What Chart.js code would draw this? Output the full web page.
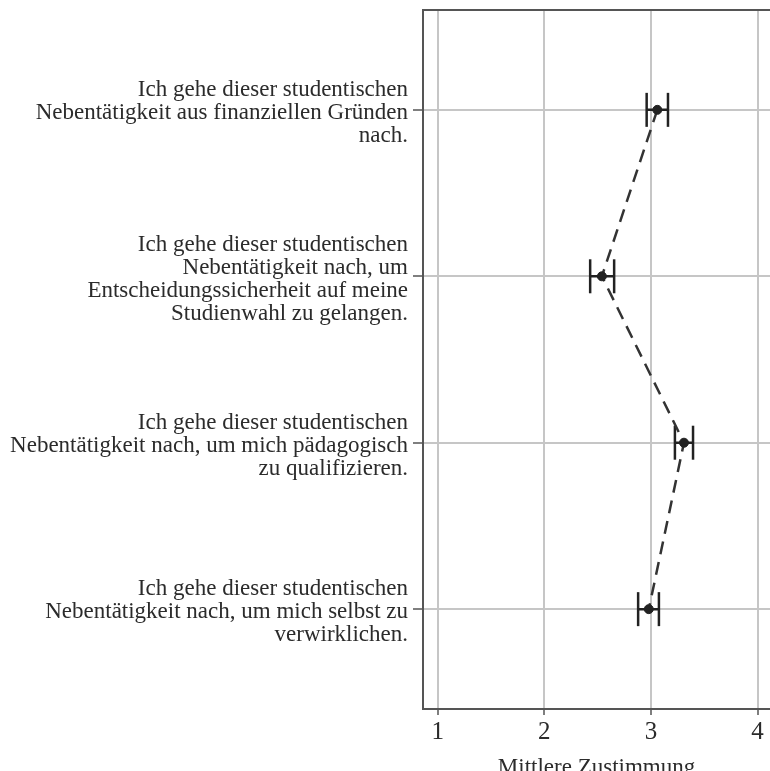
<!DOCTYPE html>
<html>
<head>
<meta charset="utf-8">
<script src="https://cdn.jsdelivr.net/npm/chart.js@4"></script>
<style>
  body { margin: 0; background: #fff; overflow: hidden; }
  #wrap { width: 770px; height: 771px; }
</style>
</head>
<body>
<div id="wrap"><canvas id="chart"></canvas></div>
<script>
// Motive (y-Achse, von oben nach unten)
const motive = [
    ["Ich gehe dieser studentischen", "Nebentätigkeit aus finanziellen Gründen", "nach."],
    ["Ich gehe dieser studentischen", "Nebentätigkeit nach, um", "Entscheidungssicherheit auf meine", "Studienwahl zu gelangen."],
    ["Ich gehe dieser studentischen", "Nebentätigkeit nach, um mich pädagogisch", "zu qualifizieren."],
    ["Ich gehe dieser studentischen", "Nebentätigkeit nach, um mich selbst zu", "verwirklichen."]
];

// Mittelwerte und Fehlerbalken (untere / obere Grenze)
const mittelwerte = [3.06, 2.54, 3.31, 2.98];
const untereGrenze = [2.96, 2.43, 3.225, 2.88];
const obereGrenze = [3.16, 2.655, 3.395, 3.075];

// x-Achse
const xTicks = [1, 2, 3, 4];
const xTitel = "Mittlere Zustimmung";

const schrift = '"Liberation Serif", "Times New Roman", serif';
const textFarbe = "#2b2b2b";
const rahmenFarbe = "#555555";
const gitterFarbe = "#c6c6c6";

// Punkte fuer die Mittelwert-Linie
let punkte = [];
for (let i = 0; i < mittelwerte.length; i++) {
    punkte.push({ x: mittelwerte[i], y: i });
}

// Fehlerbalken: je zwei Punkte, getrennt durch eine Luecke
let balken = [];
for (let i = 0; i < mittelwerte.length; i++) {
    balken.push({ x: untereGrenze[i], y: i });
    balken.push({ x: obereGrenze[i], y: i });
    balken.push({ x: null, y: null });
}

// Achsen-Innenabstaende abschalten, damit die Flaeche bis an den Rand geht
function ohnePadding(axis) {
    axis.paddingTop = 0;
    axis.paddingBottom = 0;
    axis.paddingLeft = 0;
    axis.paddingRight = 0;
}

// oberer Rahmen der Zeichenflaeche
const obererRahmen = {
    id: "obererRahmen",
    afterDraw(chart) {
        const { ctx, chartArea } = chart;
        ctx.save();
        ctx.strokeStyle = rahmenFarbe;
        ctx.lineWidth = 2;
        ctx.beginPath();
        ctx.moveTo(chartArea.left - 1, chartArea.top);
        ctx.lineTo(chartArea.right, chartArea.top);
        ctx.stroke();
        ctx.restore();
    }
};

new Chart(document.getElementById("chart"), {
    type: "scatter",
    data: {
        datasets: [
            {
                data: balken,
                showLine: true,
                spanGaps: false,
                borderColor: "#222",
                backgroundColor: "#222",
                borderWidth: 2.5,
                pointStyle: "line",
                rotation: 90,
                pointRadius: 17,
                pointBorderWidth: 2.5,
                order: 1
            },
            {
                data: punkte,
                showLine: true,
                borderColor: "#333",
                borderWidth: 2.5,
                borderDash: [13, 8],
                pointRadius: 4.5,
                pointBackgroundColor: "#222",
                pointBorderColor: "#222",
                pointBorderWidth: 1,
                order: 0
            }
        ]
    },
    options: {
        responsive: true,
        maintainAspectRatio: false,
        animation: false,
        layout: {
            autoPadding: false,
            padding: { top: 10, left: 0, right: 0, bottom: 0 }
        },
        plugins: {
            legend: { display: false },
            tooltip: { enabled: false }
        },
        scales: {
            x: {
                type: "linear",
                position: "bottom",
                min: 0.862,
                max: 4.117,
                afterBuildTicks: (axis) => {
                    axis.ticks = xTicks.map(v => ({ value: v }));
                },
                afterFit: (axis) => { axis.height = 62; ohnePadding(axis); },
                grid: {
                    color: gitterFarbe,
                    lineWidth: 2,
                    tickColor: rahmenFarbe,
                    tickLength: 6,
                    tickWidth: 1.5
                },
                border: { display: true, color: rahmenFarbe, width: 2 },
                ticks: {
                    color: textFarbe,
                    padding: 2,
                    font: { family: schrift, size: 25 },
                    maxRotation: 0
                },
                title: {
                    display: true,
                    text: xTitel,
                    color: textFarbe,
                    font: { family: schrift, size: 23, lineHeight: 1 },
                    padding: { top: 0, bottom: -8 }
                }
            },
            y: {
                type: "linear",
                reverse: true,
                min: -0.6,
                max: 3.6,
                afterBuildTicks: (axis) => {
                    axis.ticks = motive.map((m, i) => ({ value: i }));
                },
                afterFit: (axis) => { axis.width = 423; ohnePadding(axis); },
                grid: {
                    color: gitterFarbe,
                    lineWidth: 2,
                    tickColor: rahmenFarbe,
                    tickLength: 10,
                    tickWidth: 1.5
                },
                border: { display: true, color: rahmenFarbe, width: 2 },
                ticks: {
                    color: textFarbe,
                    padding: 5,
                    labelOffset: 3,
                    font: { family: schrift, size: 23, lineHeight: 1 },
                    callback: (value) => motive[value]
                }
            }
        }
    },
    plugins: [obererRahmen]
});
</script>
</body>
</html>
